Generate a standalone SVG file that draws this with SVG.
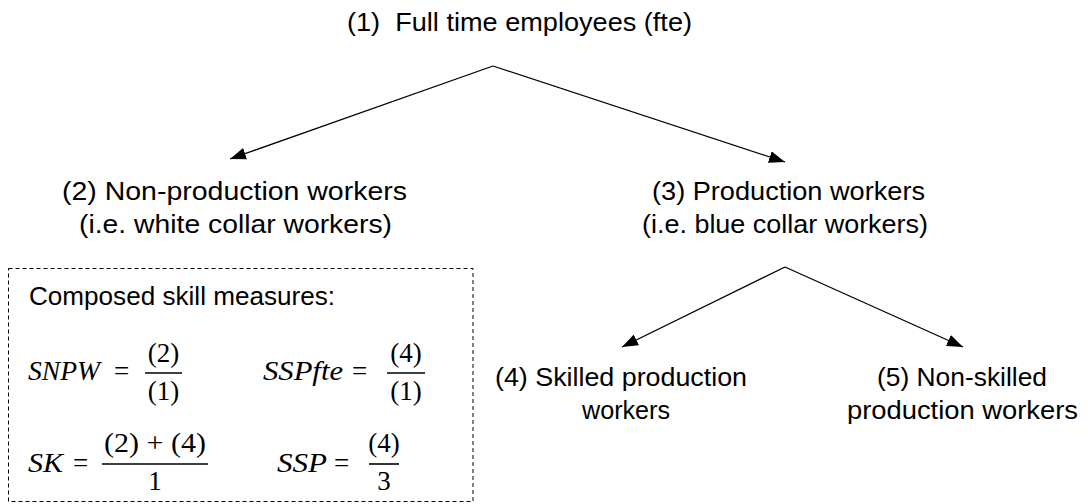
<svg xmlns="http://www.w3.org/2000/svg" width="1088" height="504" viewBox="0 0 1088 504">
<defs>
<marker id="ah" viewBox="0 0 16 12" refX="16" refY="6" markerWidth="16" markerHeight="12" markerUnits="userSpaceOnUse" orient="auto">
<path d="M0,0 L16,6 L0,12 Z" fill="#000"/>
</marker>
<style>
.lbl{font-family:"Liberation Sans",Arial,sans-serif;font-size:25px;fill:#000}
.m{font-family:"Liberation Serif","Times New Roman",serif;font-size:27px;fill:#000}
.i{font-style:italic}
.c{text-anchor:middle}
.edge{fill:none;stroke:#000;stroke-width:1.3}
.bar{stroke:#000;stroke-width:1.6}
</style>
</defs>
<rect width="1088" height="504" fill="#fff"/>
<g id="connectors">
<line class="edge" x1="493" y1="66" x2="230" y2="159" marker-end="url(#ah)"/>
<line class="edge" x1="493" y1="66" x2="785" y2="162" marker-end="url(#ah)"/>
<line class="edge" x1="785" y1="267" x2="622" y2="347" marker-end="url(#ah)"/>
<line class="edge" x1="785" y1="267" x2="963" y2="347" marker-end="url(#ah)"/>
</g>
<g id="n1"><text class="lbl" x="347" y="31" textLength="345" lengthAdjust="spacingAndGlyphs" xml:space="preserve">(1)  Full time employees (fte)</text></g>
<g id="n2">
<text class="lbl c" x="234.5" y="200" textLength="345" lengthAdjust="spacingAndGlyphs">(2) Non-production workers</text>
<text class="lbl c" x="235.5" y="233" textLength="313" lengthAdjust="spacingAndGlyphs">(i.e. white collar workers)</text>
</g>
<g id="n3">
<text class="lbl c" x="788.5" y="200" textLength="273" lengthAdjust="spacingAndGlyphs">(3) Production workers</text>
<text class="lbl c" x="785" y="233" textLength="286" lengthAdjust="spacingAndGlyphs">(i.e. blue collar workers)</text>
</g>
<g id="n4">
<text class="lbl c" x="621" y="386" textLength="252" lengthAdjust="spacingAndGlyphs">(4) Skilled production</text>
<text class="lbl c" x="626" y="419" textLength="88" lengthAdjust="spacingAndGlyphs">workers</text>
</g>
<g id="n5">
<text class="lbl c" x="962" y="386" textLength="170" lengthAdjust="spacingAndGlyphs">(5) Non-skilled</text>
<text class="lbl c" x="962.5" y="419" textLength="231" lengthAdjust="spacingAndGlyphs">production workers</text>
</g>
<g id="measures">
<rect x="8.5" y="268.5" width="464.5" height="233" fill="none" stroke="#000" stroke-width="1" stroke-dasharray="4,3"/>
<text class="lbl" x="29" y="305" textLength="306" lengthAdjust="spacingAndGlyphs">Composed skill measures:</text>
<text class="m i" x="28" y="380" textLength="72" lengthAdjust="spacingAndGlyphs">SNPW</text>
<text class="m" x="114" y="380">=</text>
<text class="m c" x="163.5" y="362">(2)</text>
<line class="bar" x1="145" y1="373" x2="182" y2="373"/>
<text class="m c" x="163.5" y="400">(1)</text>
<text class="m i" x="263" y="380" textLength="80" lengthAdjust="spacingAndGlyphs">SSPfte</text>
<text class="m" x="352" y="380">=</text>
<text class="m c" x="406" y="362">(4)</text>
<line class="bar" x1="387" y1="373" x2="425" y2="373"/>
<text class="m c" x="406" y="400">(1)</text>
<text class="m i" x="28" y="472" textLength="35" lengthAdjust="spacingAndGlyphs">SK</text>
<text class="m" x="73" y="472">=</text>
<text class="m c" x="155" y="452" textLength="102" lengthAdjust="spacingAndGlyphs" xml:space="preserve">(2) + (4)</text>
<line class="bar" x1="102" y1="464" x2="208" y2="464"/>
<text class="m c" x="155" y="490">1</text>
<text class="m i" x="277" y="472" textLength="50" lengthAdjust="spacingAndGlyphs">SSP</text>
<text class="m" x="334" y="472">=</text>
<text class="m c" x="384" y="452">(4)</text>
<line class="bar" x1="369" y1="464" x2="399" y2="464"/>
<text class="m c" x="384" y="490">3</text>
</g>
</svg>
